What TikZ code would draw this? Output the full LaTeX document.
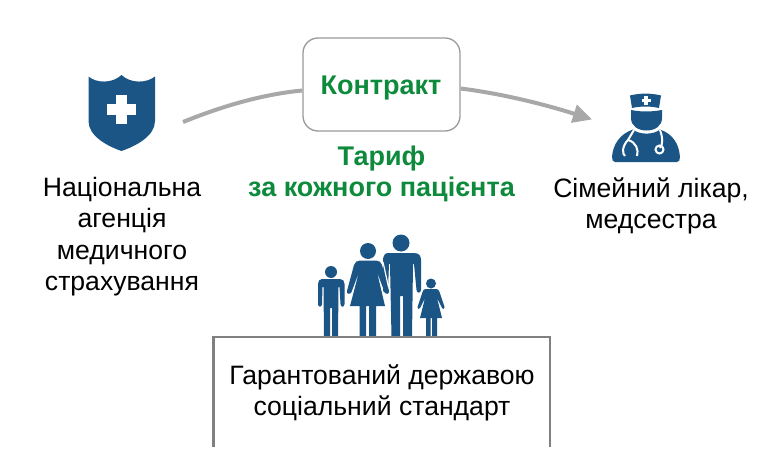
\documentclass[tikz,border=0pt]{standalone}
\usepackage{fontspec}
\setmainfont{Liberation Sans}
\usetikzlibrary{arrows.meta}
\definecolor{iconblue}{HTML}{1B5586}
\definecolor{txtgreen}{HTML}{0E8A3C}
\definecolor{boxgray}{HTML}{9A9A9A}
\definecolor{arrowgray}{HTML}{A8A8A8}
\definecolor{framegray}{HTML}{808080}
\tikzset{
  lbl/.style={align=center,inner sep=0pt,font=\fontsize{26.6}{31.3}\selectfont,text=black},
  greenlbl/.style={align=center,inner sep=0pt,font=\fontsize{27}{31.3}\selectfont\bfseries,text=txtgreen},
  flow/.style={draw=arrowgray,line width=4pt},
  icon/.style={fill=iconblue,draw=none},
  cutout/.style={fill=white,draw=none},
  cutline/.style={draw=white,line width=2pt,fill=none}
}
\begin{document}
\begin{tikzpicture}[x=1pt,y=-1pt]
\useasboundingbox (0,0) rectangle (758,455);
\fill[white] (0,0) rectangle (758,455);
% box and connectors
\node[draw=boxgray,line width=1.3pt,rounded corners=15pt,fill=white,minimum width=157pt,minimum height=93pt,inner sep=0pt] (contract) at (381.5,84.5) {};
\node[greenlbl] (contracttxt) at (381,88) {Контракт};
\coordinate (agencyout) at (183,122);
\coordinate (doctorin) at (592,119.5);
\draw[flow] (agencyout) .. controls (225,105) and (265,94) .. ([yshift=-6pt]contract.west);
\draw[flow,-{Triangle[length=19pt,width=18pt]}] ([yshift=-4pt]contract.east) .. controls (505,94) and (550,106) .. (doctorin);
% shield
\fill[icon] (88.5,76.5) .. controls (96,83) and (112,84) .. (121.5,75) .. controls (131,84) and (147,83) .. (155,76.5)
  -- (155,121) .. controls (155,136) and (136,146) .. (121.5,151) .. controls (107,146) and (88.5,136) .. (88.5,121) -- cycle;
\fill[cutout] (116,95) rectangle (127,124);
\fill[cutout] (107,104) rectangle (136,115);
% doctor
\fill[icon] (630,95.5) .. controls (640,93) and (651,93) .. (661,95.5) -- (659,108) .. controls (650,106) and (641,106) .. (632,108) -- cycle;
\fill[cutout] (644,96) rectangle (648,105);
\fill[cutout] (641.5,98.7) rectangle (650.5,102.3);
\fill[icon] (631,110) .. controls (641,112) and (651,112) .. (662,110) -- (662,118) .. controls (662,126) and (655,130.5) .. (646.5,130.5) .. controls (638,130.5) and (631,126) .. (631,118) -- cycle;
\fill[icon] (612,157) .. controls (613,144) and (620,134) .. (633,129.5) .. controls (639,135) and (654,135) .. (660,129.5) .. controls (673,134) and (679,144) .. (680,157) .. controls (680,160) and (679,162) .. (677,162) -- (615,162) .. controls (613,162) and (612,160) .. (612,157) -- cycle;
\draw[cutline] (634,130) -- (628,140) .. controls (622,146) and (622,154) .. (625,156);
\draw[cutline] (628,140) .. controls (636,142) and (639,150) .. (637,156);
\draw[cutline] (660,130) .. controls (663,138) and (663,144) .. (660,148);
\draw[cutline] (659.5,149.5) circle (4pt);
% family: man
\fill[icon] (401,243) circle (8.5pt);
\fill[icon] (388,253) -- (414,253) .. controls (419,253) and (421,256) .. (421,260) -- (421,290) .. controls (421,293.5) and (416.5,293.5) .. (416.5,290) -- (414,264) -- (413,264) -- (412,337) -- (403,337) -- (403,296) -- (400,296) -- (400,337) -- (391.5,337) -- (390,264) -- (389,264) -- (388,290) .. controls (387,293.5) and (383,293) .. (383,290) -- (383,260) .. controls (383,256) and (385,253) .. (388,253) -- cycle;
% woman
\fill[icon] (368,251) circle (8pt);
\fill[icon] (360,260.5) -- (376,260.5) .. controls (379,260.5) and (381,262) .. (382,265) -- (389,291) .. controls (389.5,294) and (386,295) .. (384.5,292) -- (377,272) -- (385,306) -- (376,306) -- (376,337) -- (369,337) -- (369,306) -- (366,306) -- (366,337) -- (359.5,337) -- (359.5,306) -- (350,306) -- (359,272) -- (351.5,292) .. controls (350,295) and (346,294) .. (347,291) -- (354,265) .. controls (355,262) and (357,260.5) .. (360,260.5) -- cycle;
\draw[white,line width=1.2pt] (383,262) -- (388.5,287);
% boy
\fill[icon] (331,272) circle (6pt);
\fill[icon] (322,279) -- (340,279) .. controls (343,279) and (344.5,281) .. (344.5,284) -- (344.5,304) .. controls (344.5,307.5) and (340.5,307.5) .. (340.5,304) -- (339.5,287) -- (338.5,287) -- (338,337) -- (332,337) -- (332,308) -- (330,308) -- (330,337) -- (324,337) -- (323.5,287) -- (322.5,287) -- (322,304) .. controls (322,307.5) and (318,307.5) .. (318,304) -- (318,284) .. controls (318,281) and (319.5,279) .. (322,279) -- cycle;
% girl
\fill[icon] (431,283.5) circle (5pt);
\fill[icon] (426,289) -- (436,289) .. controls (438,289) and (439,290) .. (439.5,292) -- (444.5,307) .. controls (445,309) and (443,310) .. (442,308) -- (437,298) -- (442,318) -- (437,318) -- (437,337) -- (432,337) -- (432,318) -- (430.5,318) -- (430.5,337) -- (426,337) -- (426,318) -- (420,318) -- (425,298) -- (420,308) .. controls (419,310) and (417,309) .. (417.5,307) -- (422.5,292) .. controls (423,290) and (424,289) .. (426,289) -- cycle;
% standard frame
\coordinate (frameBL) at (213.5,447);
\coordinate (frameTL) at (213.5,337);
\coordinate (frameTR) at (550,337);
\coordinate (frameBR) at (550,447);
\draw[framegray,line width=2.6pt] (frameBL) -- (frameTL) -- (frameTR) -- (frameBR);
% labels
\node[lbl] (agency) at (122,236.5) {Національна\\агенція\\медичного\\страхування};
\node[lbl] (doctor) at (651,206) {Сімейний лікар,\\медсестра};
\node[greenlbl] (tariff) at (381.5,174) {Тариф\\за кожного пацієнта};
\node[lbl] (standard) at (382,393) {Гарантований державою\\соціальний стандарт};
\end{tikzpicture}
\end{document}
